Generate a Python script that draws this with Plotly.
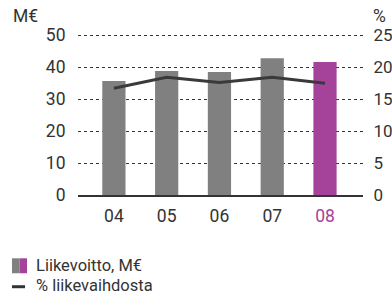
import plotly.graph_objects as go

years = ["04", "05", "06", "07", "08"]
profit = [35.7, 38.8, 38.5, 42.8, 41.6]          # Liikevoitto, M€
margin = [16.7, 18.4, 17.6, 18.4, 17.5]          # % liikevaihdosta
left_ticks = [0, 10, 20, 30, 40, 50]
right_ticks = [0, 5, 10, 15, 20, 25]

GRAY = "#808080"
PURPLE = "#a5439a"
DARK = "#333333"
bar_colors = [GRAY] * (len(years) - 1) + [PURPLE]

W, H = 392, 298
L, R, T, B = 78, 363, 32, 195.5


def px(x):
    return (x - L) / (R - L)


def py(y):
    return (B - y) / (B - T)


fig = go.Figure()
fig.add_trace(go.Bar(x=list(range(len(years))), y=profit, marker_color=bar_colors,
                     marker_line_width=0, width=0.44, yaxis="y", showlegend=False,
                     hoverinfo="skip"))
fig.add_trace(go.Scatter(x=list(range(len(years))), y=margin, mode="lines",
                         line=dict(color="#3a3a3a", width=3), yaxis="y2", showlegend=False,
                         hoverinfo="skip"))

ticktext = [y if i < len(years) - 1 else f"<span style='color:{PURPLE}'>{y}</span>"
            for i, y in enumerate(years)]

font = dict(family="Roboto, Open Sans, sans-serif", size=17.5, color=DARK)

fig.update_layout(
    width=W, height=H,
    margin=dict(l=L, r=W - R, t=T, b=H - B, autoexpand=False),
    paper_bgcolor="white", plot_bgcolor="white",
    font=font,
    showlegend=False,
    xaxis=dict(range=[-0.68, 4.72], tickvals=list(range(len(years))), ticktext=ticktext,
               showgrid=False, zeroline=False, showline=True, linecolor=DARK, linewidth=2,
               ticks="outside", ticklen=4, tickcolor="rgba(0,0,0,0)", fixedrange=True,
               automargin=False),
    yaxis=dict(range=[0, 51], tickvals=left_ticks, showgrid=True, gridcolor=DARK,
               griddash="dot", gridwidth=1, zeroline=False, showline=False,
               ticks="outside", ticklen=8, tickcolor="rgba(0,0,0,0)", automargin=False),
    yaxis2=dict(range=[0, 25.5], tickvals=right_ticks, overlaying="y", side="right",
                showgrid=False, zeroline=False, showline=False,
                tickfont=dict(size=17),
                ticks="outside", ticklen=6, tickcolor="rgba(0,0,0,0)", automargin=False),
)

# axis unit titles
fig.add_annotation(text="M€", x=px(11), y=py(16), xref="paper", yref="paper",
                   xanchor="left", yanchor="middle", showarrow=False, font=font)
fig.add_annotation(text="%", x=px(388), y=py(16), xref="paper", yref="paper",
                   xanchor="right", yanchor="middle", showarrow=False, font=font)

# custom legend
fig.add_shape(type="rect", xref="paper", yref="paper", x0=px(12), x1=px(19.5),
              y0=py(274), y1=py(259), fillcolor=GRAY, line_width=0)
fig.add_shape(type="rect", xref="paper", yref="paper", x0=px(19.5), x1=px(27),
              y0=py(274), y1=py(259), fillcolor=PURPLE, line_width=0)
fig.add_shape(type="line", xref="paper", yref="paper", x0=px(12), x1=px(25),
              y0=py(287.5), y1=py(287.5), line=dict(color=DARK, width=3))
lfont = dict(family="Roboto, Open Sans, sans-serif", size=16.5, color=DARK)
fig.add_annotation(text="Liikevoitto, M€", x=px(34), y=py(266.5), xref="paper", yref="paper",
                   xanchor="left", yanchor="middle", showarrow=False, font=lfont)
fig.add_annotation(text="% liikevaihdosta", x=px(34), y=py(286), xref="paper", yref="paper",
                   xanchor="left", yanchor="middle", showarrow=False, font=lfont)

fig.write_html(
    "out.html",
    config={"displayModeBar": False},
    post_script="document.body.style.margin='0';document.body.style.overflow='hidden';",
)
